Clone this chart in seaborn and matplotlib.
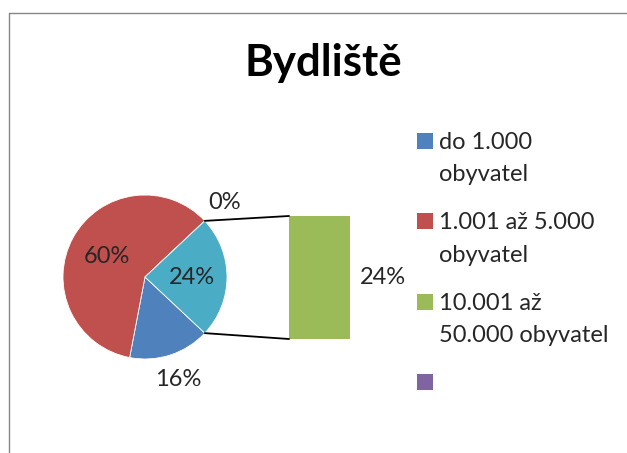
import matplotlib
matplotlib.use("Agg")
import matplotlib.pyplot as plt
from matplotlib.patches import ConnectionPatch, Rectangle
from matplotlib.lines import Line2D
import seaborn as sns
import pandas as pd
import numpy as np

# ---- data ----
title = "Bydliště"
categories = ["do 1.000 obyvatel", "1.001 až 5.000 obyvatel", "10.001 až 50.000 obyvatel", ""]
legend_labels = ["do 1.000\nobyvatel", "1.001 až 5.000\nobyvatel", "10.001 až\n50.000 obyvatel", ""]
values = [16, 60, 24, 0]            # percent
main_idx = [0, 1, 3]                # categories shown directly in the pie
second_idx = [2]                    # categories moved to the bar ("other")
colors = ["#4F81BD", "#C0504D", "#9BBB59", "#8064A2"]
other_color = "#4BACC6"

sns.set_theme(style="white")
plt.rcParams["font.family"] = ["Lato", "DejaVu Sans"]

W, H = 627, 453
fig = plt.figure(figsize=(W / 100, H / 100), dpi=100)

def fx(px):
    return px / W

def fy(py):
    return 1 - py / H

# chart frame (left and top edges visible)
fig.add_artist(Line2D([fx(8.5), fx(8.5)], [fy(12.5), 0], color="#868686", lw=1.0))
fig.add_artist(Line2D([fx(8.5), 1], [fy(12.5), fy(12.5)], color="#868686", lw=1.0))

fig.text(fx(323), fy(76), title, ha="center", va="baseline", fontsize=31.5, fontweight="bold", color="black")

# ---- main pie ----
cx, cy, r = 145, 277, 82
half = 100
ax = fig.add_axes([fx(cx - half), fy(cy + half), (2 * half) / W, (2 * half) / H])
other_val = sum(values[i] for i in second_idx)
pie_vals = [values[i] for i in main_idx] + [other_val]
pie_cols = [colors[i] for i in main_idx] + [other_color]
start = -other_val * 3.6 / 2
wedges, _ = ax.pie(pie_vals, colors=pie_cols, startangle=start, counterclock=False, radius=1,
                   wedgeprops=dict(linewidth=0.6, edgecolor="white"))
lim = half / r
ax.set_xlim(-lim, lim)
ax.set_ylim(-lim, lim)
ax.set_aspect("equal")
ax.axis("off")

label_dist = [1.32, 0.53, 1.33, 0.57]
for w, v, d in zip(wedges, pie_vals, label_dist):
    ang = np.deg2rad((w.theta1 + w.theta2) / 2)
    ax.text(d * np.cos(ang), d * np.sin(ang), f"{v}%", ha="center", va="center", fontsize=17)

# ---- secondary bar ----
bx0, bx1, by0, by1 = 289, 350, 216, 339
bax = fig.add_axes([fx(bx0), fy(by1), (bx1 - bx0) / W, (by1 - by0) / H])
df = pd.DataFrame({"cat": [categories[i] for i in second_idx], "val": [values[i] for i in second_idx]})
sns.barplot(data=df, x="cat", y="val", ax=bax, color=colors[second_idx[0]], width=1.0,
            saturation=1, edgecolor="none")
bax.set_xlim(-0.5, 0.5)
bax.set_ylim(0, other_val)
bax.axis("off")
bax.text(1.54, 0.5, f"{values[second_idx[0]]}%", ha="center", va="center", fontsize=17,
         transform=bax.transAxes)

# connector lines
t_top = np.deg2rad(-start)
t_bot = np.deg2rad(start)
for t, yb in [(t_top, other_val), (t_bot, 0)]:
    con = ConnectionPatch(xyA=(np.cos(t), np.sin(t)), coordsA=ax.transData,
                          xyB=(-0.5, yb), coordsB=bax.transData, color="black", lw=1.3)
    fig.add_artist(con)

# ---- legend ----
entry_tops = [133, 213, 294, 374]
for lab, col, top in zip(legend_labels, colors, entry_tops):
    fig.add_artist(Rectangle((fx(417), fy(top + 15.5)), 15.5 / W, 15.5 / H, transform=fig.transFigure,
                             facecolor=col, edgecolor="none"))
    for k, line in enumerate(lab.split("\n")):
        if line:
            fig.text(fx(439), fy(top + 16 + 32.5 * k), line, ha="left", va="baseline", fontsize=17)

fig.savefig("out.png", dpi=100)
